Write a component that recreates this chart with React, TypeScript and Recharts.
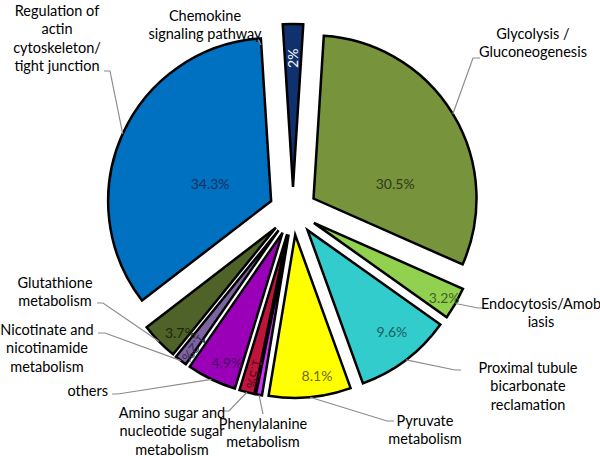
import React from 'react';
import { PieChart, Pie, Cell, Sector } from 'recharts';

// clockwise from 12 o'clock
const categories = [
  'Chemokine\nsignaling pathway',
  'Glycolysis /\nGluconeogenesis',
  'Endocytosis/Amob\niasis',
  'Proximal tubule\nbicarbonate\nreclamation',
  'Pyruvate\nmetabolism',
  'Phenylalanine\nmetabolism',
  'Amino sugar and\nnucleotide sugar\nmetabolism',
  'others',
  'Nicotinate and\nnicotinamide\nmetabolism',
  'Glutathione\nmetabolism',
  'Regulation of\nactin\ncytoskeleton/\ntight junction',
];
const shares = [2, 30.5, 3.2, 9.6, 8.1, 0.6, 1.5, 4.9, 1.2, 3.7, 34.3];

const sliceColors = [
  '#10306E', '#77933C', '#92D050', '#33CCCC', '#FFFF00', '#CC33FF',
  '#C0143C', '#9A00B8', '#7D64A0', '#4F6228', '#0070C0',
];
const pctColors = [
  '#FFFFFF', '#2F3A18', '#3E6420', '#16615F', '#6E6A10', '#000000',
  '#5A0A1E', '#4A0A5E', '#3A2E58', '#1E2610', '#16305E',
];

// label layout (not data)
const pctRadius = [0.79, 0.51, 0.92, 0.81, 0.87, 0, 0.88, 0.87, 0.89, 0.87, 0.39];
const pctShift = [0, 20.5, 0, -2.5, -3.6, 0, -1.4, -2.7, -1.5, -3.4, -8];
const pctRotate = [true, false, false, false, false, false, true, false, true, false, false];

type Callout = {
  tx: number; ty: number; anchor: 'middle' | 'end';
  elbow: [number, number]; tick: [number, number] | null; fromSlice: boolean;
};
const callouts: Callout[] = [
  { tx: 205, ty: 15, anchor: 'middle', elbow: [261, 45], tick: [258, 39], fromSlice: false },
  { tx: 533, ty: 33, anchor: 'middle', elbow: [473, 58], tick: [480, 58], fromSlice: true },
  { tx: 541, ty: 303, anchor: 'middle', elbow: [478, 308], tick: [484, 308], fromSlice: true },
  { tx: 528, ty: 367, anchor: 'middle', elbow: [455, 370], tick: [461, 370], fromSlice: true },
  { tx: 425, ty: 420, anchor: 'middle', elbow: [387, 421], tick: [394, 421], fromSlice: true },
  { tx: 263, ty: 423, anchor: 'middle', elbow: [263, 414], tick: null, fromSlice: true },
  { tx: 172, ty: 412, anchor: 'middle', elbow: [229, 411], tick: [223, 411], fromSlice: true },
  { tx: 108, ty: 390, anchor: 'end', elbow: [118, 394], tick: [112, 394], fromSlice: true },
  { tx: 47, ty: 329, anchor: 'middle', elbow: [105, 333], tick: [98, 333], fromSlice: true },
  { tx: 55, ty: 282, anchor: 'middle', elbow: [103, 303], tick: [97, 303], fromSlice: true },
  { tx: 57, ty: 10, anchor: 'middle', elbow: [110, 71], tick: [104, 71], fromSlice: true },
];

const data = categories.map((name, i) => ({ name, value: shares[i] }));

const RAD = Math.PI / 180;
const EXPLODE = 24;
const FONT = 'Lato, "Open Sans", sans-serif';
const LINE_H = 18.5;

const explodedCenter = (cx: number, cy: number, midAngle: number) => ({
  x: cx + EXPLODE * Math.cos(-midAngle * RAD),
  y: cy + EXPLODE * Math.sin(-midAngle * RAD),
});

const SliceShape = (props: any) => {
  const c = explodedCenter(props.cx, props.cy, props.midAngle);
  return <Sector {...props} cx={c.x} cy={c.y} />;
};

const renderLabel = (props: any) => {
  const { cx, cy, midAngle, outerRadius, index } = props;
  const c = explodedCenter(cx, cy, midAngle);
  const items: React.ReactNode[] = [];

  const r = pctRadius[index];
  if (r > 0) {
    const a = midAngle - pctShift[index];
    const px = c.x + r * outerRadius * Math.cos(-a * RAD);
    const py = c.y + r * outerRadius * Math.sin(-a * RAD);
    items.push(
      <text
        key="pct"
        x={px}
        y={py}
        fill={pctColors[index]}
        fontSize={14}
        fontFamily={FONT}
        textAnchor="middle"
        dominantBaseline="central"
        transform={pctRotate[index] ? `rotate(${-midAngle} ${px} ${py})` : undefined}
      >
        {`${shares[index]}%`}
      </text>
    );
  }

  const co = callouts[index];
  const pts: [number, number][] = [];
  if (co.fromSlice) {
    pts.push([
      c.x + outerRadius * Math.cos(-midAngle * RAD),
      c.y + outerRadius * Math.sin(-midAngle * RAD),
    ]);
  }
  pts.push(co.elbow);
  if (co.tick) pts.push(co.tick);
  items.push(
    <polyline
      key="line"
      points={pts.map((p) => p.join(',')).join(' ')}
      fill="none"
      stroke="#8C8C8C"
      strokeWidth={1.2}
    />
  );

  categories[index].split('\n').forEach((line, k) => {
    items.push(
      <text
        key={`t${k}`}
        x={co.tx}
        y={co.ty + k * LINE_H}
        fill="#000"
        fontSize={14.5}
        fontFamily={FONT}
        textAnchor={co.anchor}
        dominantBaseline="central"
      >
        {line}
      </text>
    );
  });

  return <g>{items}</g>;
};

export default function App() {
  return (
    <div style={{ position: 'absolute', left: 0, top: 0, width: 600, height: 456, background: '#fff' }}>
      <PieChart width={600} height={456} margin={{ top: 0, right: 0, bottom: 0, left: 0 }}>
        <Pie
          data={data}
          dataKey="value"
          nameKey="name"
          cx={293}
          cy={211}
          innerRadius={0}
          outerRadius={163}
          startAngle={93.614}
          endAngle={-266.386}
          stroke="#000"
          strokeWidth={2.5}
          shape={SliceShape}
          label={renderLabel}
          labelLine={false}
          isAnimationActive={false}
        >
          {data.map((d, i) => (
            <Cell key={d.name} fill={sliceColors[i]} />
          ))}
        </Pie>
      </PieChart>
    </div>
  );
}
